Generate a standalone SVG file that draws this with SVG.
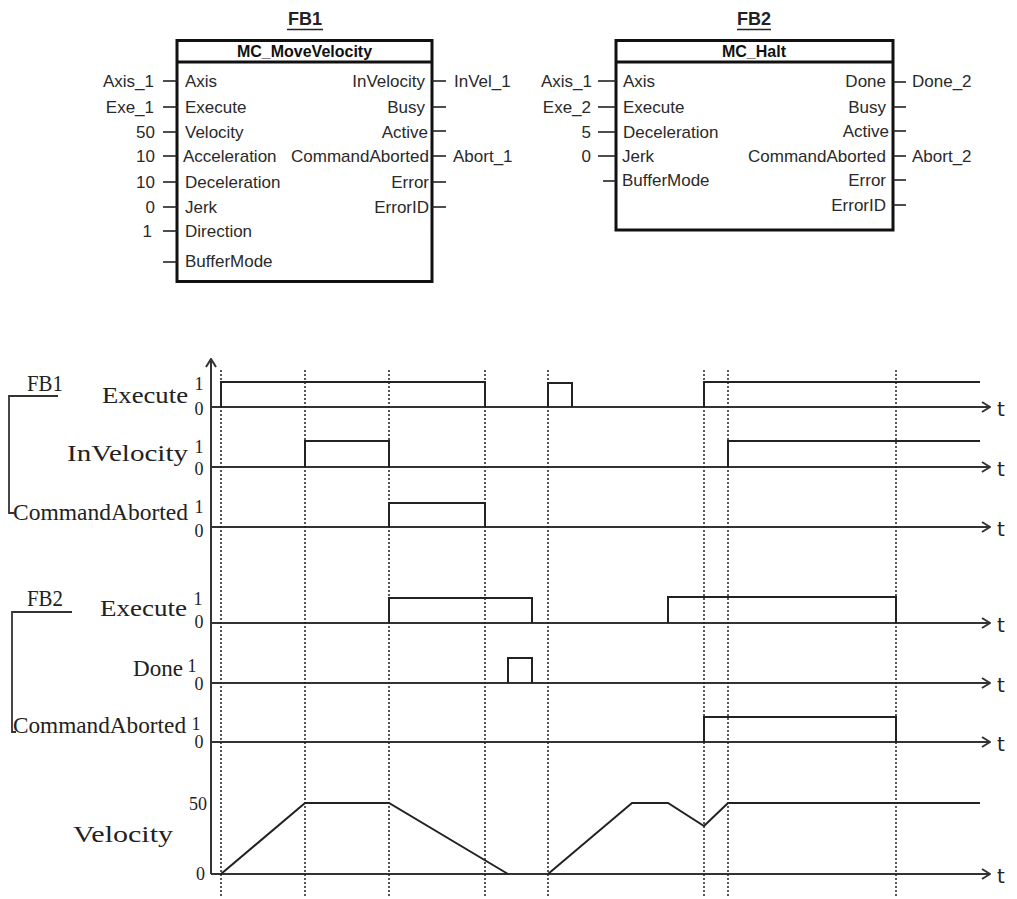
<svg xmlns="http://www.w3.org/2000/svg" width="1017" height="899" viewBox="0 0 1017 899">
<defs>
<style>
.bg{fill:#fff}
.box{fill:none;stroke:#111;stroke-width:3}
.pin{stroke:#222;stroke-width:1.6}
.ft{font-family:"Liberation Sans",Arial,sans-serif;font-size:17px;fill:#2a2a2a}
.fbh{font-family:"Liberation Sans",Arial,sans-serif;font-size:18px;font-weight:bold;fill:#222}
.ttl{font-family:"Liberation Sans",Arial,sans-serif;font-size:16px;font-weight:bold;fill:#111}
.tl{font-family:"Liberation Serif","Times New Roman",serif;font-size:24px;fill:#222}
.dg{font-family:"Liberation Serif","Times New Roman",serif;font-size:18px;fill:#222}
.tt{font-family:"DejaVu Sans",sans-serif;font-size:20px;fill:#222}
.ax{fill:none;stroke:#333;stroke-width:2}
.sig{fill:none;stroke:#222;stroke-width:2}
.dot{fill:none;stroke:#222;stroke-width:1.5;stroke-dasharray:2 2}
.br{fill:none;stroke:#333;stroke-width:1.8}
</style>
<marker id="tArr" viewBox="0 0 10 12" refX="9" refY="6" markerWidth="10" markerHeight="12" markerUnits="userSpaceOnUse" orient="auto">
<path d="M1,1 L9,6 L1,11" fill="none" stroke="#333" stroke-width="2"/>
</marker>
</defs>
<rect class="bg" x="0" y="0" width="1017" height="899"/>

<g id="fb1">
<text class="fbh" x="305" y="25" text-anchor="middle">FB1</text>
<line x1="287" y1="29.5" x2="323" y2="29.5" stroke="#222" stroke-width="1.5"/>
<rect class="box" x="177" y="40.5" width="255" height="241"/>
<line class="box" x1="177" y1="62" x2="432" y2="62"/>
<text class="ttl" x="304.5" y="57" text-anchor="middle">MC_MoveVelocity</text>
<g class="ft">
<text x="185" y="87">Axis</text>
<text x="185" y="113">Execute</text>
<text x="185" y="138">Velocity</text>
<text x="183" y="162">Acceleration</text>
<text x="185" y="188">Deceleration</text>
<text x="185" y="213">Jerk</text>
<text x="185" y="237">Direction</text>
<text x="185" y="267">BufferMode</text>
<text x="425" y="87" text-anchor="end">InVelocity</text>
<text x="425" y="113" text-anchor="end">Busy</text>
<text x="428" y="138" text-anchor="end">Active</text>
<text x="429" y="162" text-anchor="end">CommandAborted</text>
<text x="429" y="188" text-anchor="end">Error</text>
<text x="429" y="213" text-anchor="end">ErrorID</text>
<text x="154" y="87" text-anchor="end">Axis_1</text>
<text x="154" y="113" text-anchor="end">Exe_1</text>
<text x="155" y="138" text-anchor="end">50</text>
<text x="155" y="162" text-anchor="end">10</text>
<text x="155" y="188" text-anchor="end">10</text>
<text x="155" y="213" text-anchor="end">0</text>
<text x="152" y="237" text-anchor="end">1</text>
<text x="454" y="87">InVel_1</text>
<text x="453" y="162">Abort_1</text>
</g>
</g>

<g id="fb2">
<text class="fbh" x="754" y="25" text-anchor="middle">FB2</text>
<line x1="737" y1="29.5" x2="771" y2="29.5" stroke="#222" stroke-width="1.5"/>
<rect class="box" x="616" y="40.5" width="277" height="189.5"/>
<line class="box" x1="616" y1="62" x2="893" y2="62"/>
<text class="ttl" x="754" y="57" text-anchor="middle">MC_Halt</text>
<g class="ft">
<text x="623" y="87">Axis</text>
<text x="623" y="113">Execute</text>
<text x="623" y="138">Deceleration</text>
<text x="622" y="162">Jerk</text>
<text x="622" y="186">BufferMode</text>
<text x="886" y="87" text-anchor="end">Done</text>
<text x="886" y="113" text-anchor="end">Busy</text>
<text x="889" y="137" text-anchor="end">Active</text>
<text x="886" y="162" text-anchor="end">CommandAborted</text>
<text x="886" y="186" text-anchor="end">Error</text>
<text x="886" y="211" text-anchor="end">ErrorID</text>
<text x="592" y="87" text-anchor="end">Axis_1</text>
<text x="591" y="113" text-anchor="end">Exe_2</text>
<text x="591" y="138" text-anchor="end">5</text>
<text x="591" y="162" text-anchor="end">0</text>
<text x="912" y="87">Done_2</text>
<text x="912" y="162">Abort_2</text>
</g>
</g>

<g id="connectors">
<g class="pin">
<line x1="163" y1="81" x2="177" y2="81"/>
<line x1="163" y1="107" x2="177" y2="107"/>
<line x1="163" y1="132" x2="177" y2="132"/>
<line x1="163" y1="156" x2="177" y2="156"/>
<line x1="163" y1="182" x2="177" y2="182"/>
<line x1="163" y1="207" x2="177" y2="207"/>
<line x1="163" y1="231" x2="177" y2="231"/>
<line x1="163" y1="262" x2="177" y2="262"/>
<line x1="432" y1="81" x2="446" y2="81"/>
<line x1="432" y1="107" x2="446" y2="107"/>
<line x1="432" y1="131" x2="446" y2="131"/>
<line x1="432" y1="156" x2="446" y2="156"/>
<line x1="432" y1="182" x2="446" y2="182"/>
<line x1="432" y1="207" x2="446" y2="207"/>
<line x1="598" y1="81" x2="616" y2="81"/>
<line x1="598" y1="107" x2="616" y2="107"/>
<line x1="598" y1="132" x2="616" y2="132"/>
<line x1="598" y1="156" x2="616" y2="156"/>
<line x1="603" y1="181" x2="616" y2="181"/>
<line x1="893" y1="82" x2="906" y2="82"/>
<line x1="893" y1="107" x2="906" y2="107"/>
<line x1="893" y1="131" x2="906" y2="131"/>
<line x1="893" y1="156" x2="906" y2="156"/>
<line x1="893" y1="180" x2="906" y2="180"/>
<line x1="893" y1="205" x2="906" y2="205"/>
</g>
</g>

<g id="timing-axes">
<line class="ax" x1="211" y1="874" x2="211" y2="359" marker-end="url(#tArr)"/>
<line class="ax" x1="211" y1="407" x2="990" y2="407" marker-end="url(#tArr)"/>
<line class="ax" x1="211" y1="467" x2="990" y2="467" marker-end="url(#tArr)"/>
<line class="ax" x1="211" y1="527" x2="990" y2="527" marker-end="url(#tArr)"/>
<line class="ax" x1="211" y1="623" x2="990" y2="623" marker-end="url(#tArr)"/>
<line class="ax" x1="211" y1="683" x2="990" y2="683" marker-end="url(#tArr)"/>
<line class="ax" x1="211" y1="742" x2="990" y2="742" marker-end="url(#tArr)"/>
<line class="ax" x1="211" y1="874" x2="990" y2="874" marker-end="url(#tArr)"/>
<g class="tt">
<text x="997" y="416">t</text>
<text x="997" y="476">t</text>
<text x="997" y="536">t</text>
<text x="997" y="632">t</text>
<text x="997" y="692">t</text>
<text x="997" y="751">t</text>
<text x="997" y="883">t</text>
</g>
</g>

<g id="time-markers">
<line class="dot" x1="221" y1="370" x2="221" y2="897"/>
<line class="dot" x1="305" y1="370" x2="305" y2="897"/>
<line class="dot" x1="389" y1="370" x2="389" y2="897"/>
<line class="dot" x1="485" y1="370" x2="485" y2="897"/>
<line class="dot" x1="548" y1="370" x2="548" y2="897"/>
<line class="dot" x1="704" y1="370" x2="704" y2="897"/>
<line class="dot" x1="728" y1="370" x2="728" y2="897"/>
<line class="dot" x1="896" y1="370" x2="896" y2="897"/>
</g>

<g id="fb1-timing">
<path class="br" d="M58,396 H9 V513 H14"/>
<text class="tl" x="27" y="391" textLength="36" lengthAdjust="spacingAndGlyphs">FB1</text>
<text class="tl" x="102" y="403" textLength="86" lengthAdjust="spacingAndGlyphs">Execute</text>
<text class="tl" x="67" y="461" textLength="121" lengthAdjust="spacingAndGlyphs">InVelocity</text>
<text class="tl" x="13" y="520" textLength="175" lengthAdjust="spacingAndGlyphs">CommandAborted</text>
<g class="dg" text-anchor="middle">
<text x="199" y="390">1</text><text x="199" y="415">0</text>
<text x="199" y="453">1</text><text x="199" y="475">0</text>
<text x="199" y="513">1</text><text x="199" y="537">0</text>
</g>
<path class="sig" d="M221,407 V382 H485 V407"/>
<path class="sig" d="M548,407 V383 H572 V407"/>
<path class="sig" d="M704,407 V382 H980"/>
<path class="sig" d="M305,467 V441 H389 V467"/>
<path class="sig" d="M728,467 V441 H980"/>
<path class="sig" d="M389,527 V503 H485 V527"/>
</g>

<g id="fb2-timing">
<path class="br" d="M72,612 H12 V732 H16"/>
<text class="tl" x="27" y="606" textLength="36" lengthAdjust="spacingAndGlyphs">FB2</text>
<text class="tl" x="100" y="616" textLength="87" lengthAdjust="spacingAndGlyphs">Execute</text>
<text class="tl" x="133" y="676" textLength="50" lengthAdjust="spacingAndGlyphs">Done</text>
<text class="tl" x="13" y="733" textLength="173" lengthAdjust="spacingAndGlyphs">CommandAborted</text>
<g class="dg" text-anchor="middle">
<text x="198" y="605">1</text><text x="199" y="628">0</text>
<text x="192" y="672">1</text><text x="199" y="690">0</text>
<text x="196" y="730">1</text><text x="199" y="748">0</text>
</g>
<path class="sig" d="M389,623 V598 H532 V623"/>
<path class="sig" d="M668,623 V597 H896 V623"/>
<path class="sig" d="M508,683 V658 H532 V683"/>
<path class="sig" d="M704,742 V717 H896 V742"/>
</g>

<g id="velocity-timing">
<text class="tl" x="73" y="842" textLength="100" lengthAdjust="spacingAndGlyphs">Velocity</text>
<text class="dg" x="207" y="810" text-anchor="end">50</text>
<text class="dg" x="205" y="880" text-anchor="end">0</text>
<path class="sig" d="M221,874 L305,803 H389 L508,874"/>
<path class="sig" d="M548,874 L632,803 H668 L704,826 L728,803 H980"/>
</g>
</svg>
